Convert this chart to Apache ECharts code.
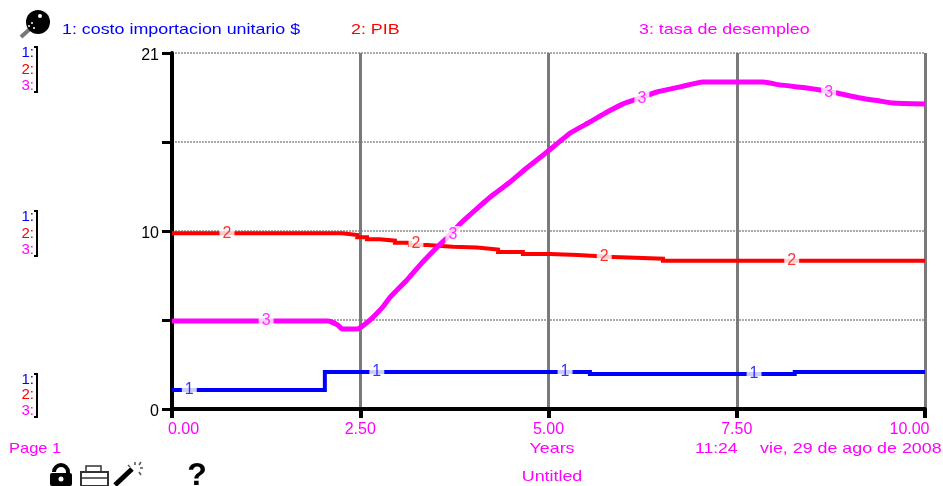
<!DOCTYPE html>
<html><head><meta charset="utf-8">
<style>html,body{margin:0;padding:0;background:#fff}#c{width:943px;height:486px}</style>
<script src="https://cdn.jsdelivr.net/npm/echarts@6/dist/echarts.min.js"></script>
</head><body><div id="c"></div>
<script>
const seriesNames = ['1: costo importacion unitario $', '2: PIB', '3: tasa de desempleo'];
const xTicks = ['0.00', '2.50', '5.00', '7.50', '10.00'];
const yTickLabels = {0: '0', 10.5: '10', 21: '21'};
const costoPts = [[0,1.12],[2.03,1.12],[2.03,2.18],[5.55,2.18],[5.55,2.06],[8.27,2.06],[8.27,2.18],[10,2.18]];
const pibPts = [[0,10.36],[2.26,10.26],[2.46,10.13],[2.59,10.01],[2.76,9.93],[2.96,9.81],[3.16,9.67],[3.39,9.57],[3.73,9.52],[4.05,9.41],[4.33,9.26],[4.66,9.14],[5.02,9.08],[5.39,8.97],[5.86,8.87],[6.52,8.75],[10,8.75]];
const tasaPts = [[0,5.19],[2.07,5.19],[2.2,4.96],[2.26,4.72],[2.46,4.72],[2.63,5.25],[2.80,6.02],[2.90,6.61],[3.12,7.61],[3.33,8.67],[3.56,9.72],[3.65,10.09],[3.82,10.9],[4.05,11.82],[4.26,12.62],[4.49,13.39],[4.71,14.22],[4.98,15.16],[5.29,16.28],[5.55,16.93],[5.78,17.52],[5.99,18.0],[6.22,18.35],[6.44,18.7],[6.75,19.0],[7.05,19.29],[7.85,19.29],[8.07,19.12],[8.43,18.94],[8.61,18.82],[8.83,18.64],[9.14,18.35],[9.40,18.17],[9.58,18.05],[10,17.99]];
const costoLabels = [[0.23,1.12],[2.72,2.18],[5.22,2.18],[7.73,2.06]];
const pibLabels = [[0.73,10.36],[3.24,9.73],[5.74,8.97],[8.23,8.75]];
const tasaLabels = [[1.25,5.19],[3.73,10.26],[6.24,18.29],[8.72,18.64]];
const colors = ['#0000ff', '#ff0000', '#ff00ff'];
const FF = '"Liberation Sans", Arial, sans-serif';
const TS = 1.19;

const chart = echarts.init(document.getElementById('c'), null, {renderer: 'canvas'});

function txt(x, y, s, fill, size, align, weight, sx) {
  return {type:'text', x, y, scaleX:sx||1, silent:true, style:{text:s, fill, font:(weight||'normal')+' '+(size||15)+'px '+FF, textAlign:align||'left', textVerticalAlign:'middle'}};
}
function bracket(x, y0, y1) {
  return {type:'polyline', silent:true, shape:{points:[[x-3,y0],[x,y0],[x,y1],[x-3,y1]]}, style:{stroke:'#000', lineWidth:2, fill:null}};
}
const gfx = [];
seriesNames.forEach((n,i)=>gfx.push(txt([62,351,639][i], 30, n, colors[i], 15, 'left', null, TS)));
[[53,70,86],[217,234,250],[380,395,411]].forEach(g=>{
  g.forEach((y,i)=>gfx.push(txt(34, y, (i+1)+':', colors[i], 15, 'right')));
  gfx.push(bracket(37, g[0]-6, g[2]+6));
});
gfx.push(txt(9,449,'Page 1','#ff00ff',15,'left',null,1.1));
gfx.push(txt(552,449,'Years','#ff00ff',15,'center',null,TS));
gfx.push(txt(695,449,'11:24','#ff00ff',15,'left',null,1.17));
gfx.push(txt(760,449,'vie, 29 de ago de 2008','#ff00ff',15,'left',null,TS));
gfx.push(txt(552,477,'Untitled','#ff00ff',15,'center',null,TS));
// toolbar icons
gfx.push({type:'line',silent:true,shape:{x1:21,y1:37,x2:32,y2:27},style:{stroke:'#777',lineWidth:4}});
gfx.push({type:'circle',silent:true,shape:{cx:38,cy:22,r:12},style:{fill:'#000'}});
[[40,16,2],[32,23,1],[34,28,1],[29,26,1]].forEach(d=>gfx.push({type:'circle',silent:true,shape:{cx:d[0],cy:d[1],r:d[2]},style:{fill:'#fff'}}));
gfx.push({type:'arc',silent:true,shape:{cx:61,cy:472,r:7,startAngle:Math.PI,endAngle:Math.PI*2.1},style:{stroke:'#000',lineWidth:4,fill:null}});
gfx.push({type:'rect',silent:true,shape:{x:50,y:473,width:22,height:13,r:2},style:{fill:'#000'}});
gfx.push({type:'circle',silent:true,shape:{cx:61,cy:479,r:2.5},style:{fill:'#fff'}});
gfx.push({type:'rect',silent:true,shape:{x:86,y:466,width:15,height:6},style:{fill:'#fff',stroke:'#333',lineWidth:1.5}});
gfx.push({type:'rect',silent:true,shape:{x:81,y:472,width:27,height:14},style:{fill:'#fff',stroke:'#333',lineWidth:2}});
gfx.push({type:'line',silent:true,shape:{x1:82,y1:478,x2:107,y2:478},style:{stroke:'#333',lineWidth:1.5}});
gfx.push({type:'line',silent:true,shape:{x1:115,y1:485,x2:132,y2:469},style:{stroke:'#000',lineWidth:5}});
[[135,462,135,465],[143,468,140,468],[128,465,130,467],[141,462,139,465],[141,475,139,472]].forEach(s=>gfx.push({type:'line',silent:true,shape:{x1:s[0],y1:s[1],x2:s[2],y2:s[3]},style:{stroke:'#555',lineWidth:1.5}}));
gfx.push(txt(197,476,'?','#000',32,'center','bold'));

function lineSeries(i, pts, extra) {
  return Object.assign({name:seriesNames[i], type:'line', data:pts, symbol:'none', smooth:false, silent:true, z:5,
    lineStyle:{color:colors[i], width:i===2?5:4, cap:'butt', join:'miter'}}, extra||{});
}
function labelSeries(i, pts) {
  return {type:'scatter', data:pts, symbolSize:0, silent:true, z:6,
    label:{show:true, position:'inside', formatter:String(i+1), color:colors[i], fontFamily:FF, fontSize:16,
      backgroundColor:'#fff', padding:[1,3]}};
}
const xl = {color:'#ff00ff', fontFamily:FF, fontSize:16};
chart.setOption({
  animation:false,
  backgroundColor:'#fff',
  grid:{left:172, right:18, top:53, bottom:77},
  xAxis:{type:'value', min:0, max:10, interval:2.5,
    axisLine:{onZero:false, lineStyle:{color:'#000', width:4}},
    axisTick:{length:9, lineStyle:{color:'#000', width:4}},
    axisLabel:{formatter:(v)=>{
        const s = xTicks[Math.round(v/2.5)];
        return v===0 ? '{a|'+s+'}' : v===10 ? '{b|'+s+'}' : s;
      }, color:'#ff00ff', fontFamily:FF, fontSize:16, margin:13, showMinLabel:true, showMaxLabel:true,
      rich:{a:Object.assign({padding:[0,0,0,23]},xl), b:Object.assign({padding:[0,31,0,0]},xl)}},
    splitLine:{show:true, lineStyle:{color:'#7a7a7a', width:3}}},
  yAxis:{type:'value', min:0, max:21, interval:5.25,
    axisLine:{onZero:false, lineStyle:{color:'#000', width:4}},
    axisTick:{length:10, lineStyle:{color:'#000', width:3}},
    axisLabel:{formatter:(v)=>yTickLabels[v]?'{y|'+yTickLabels[v]+'}':'', color:'#000', fontFamily:FF, fontSize:16, margin:13, showMinLabel:true, showMaxLabel:true,
      rich:{y:{color:'#000', fontFamily:FF, fontSize:16, padding:[5,0,0,0]}}},
    splitLine:{show:true, lineStyle:{color:'#aaa', width:2, type:[2,1]}}},
  series:[lineSeries(0,costoPts), lineSeries(1,pibPts,{step:'end'}), lineSeries(2,tasaPts,{smooth:0.15}),
    labelSeries(0,costoLabels), labelSeries(1,pibLabels), labelSeries(2,tasaLabels)],
  graphic:gfx
});
</script></body></html>
